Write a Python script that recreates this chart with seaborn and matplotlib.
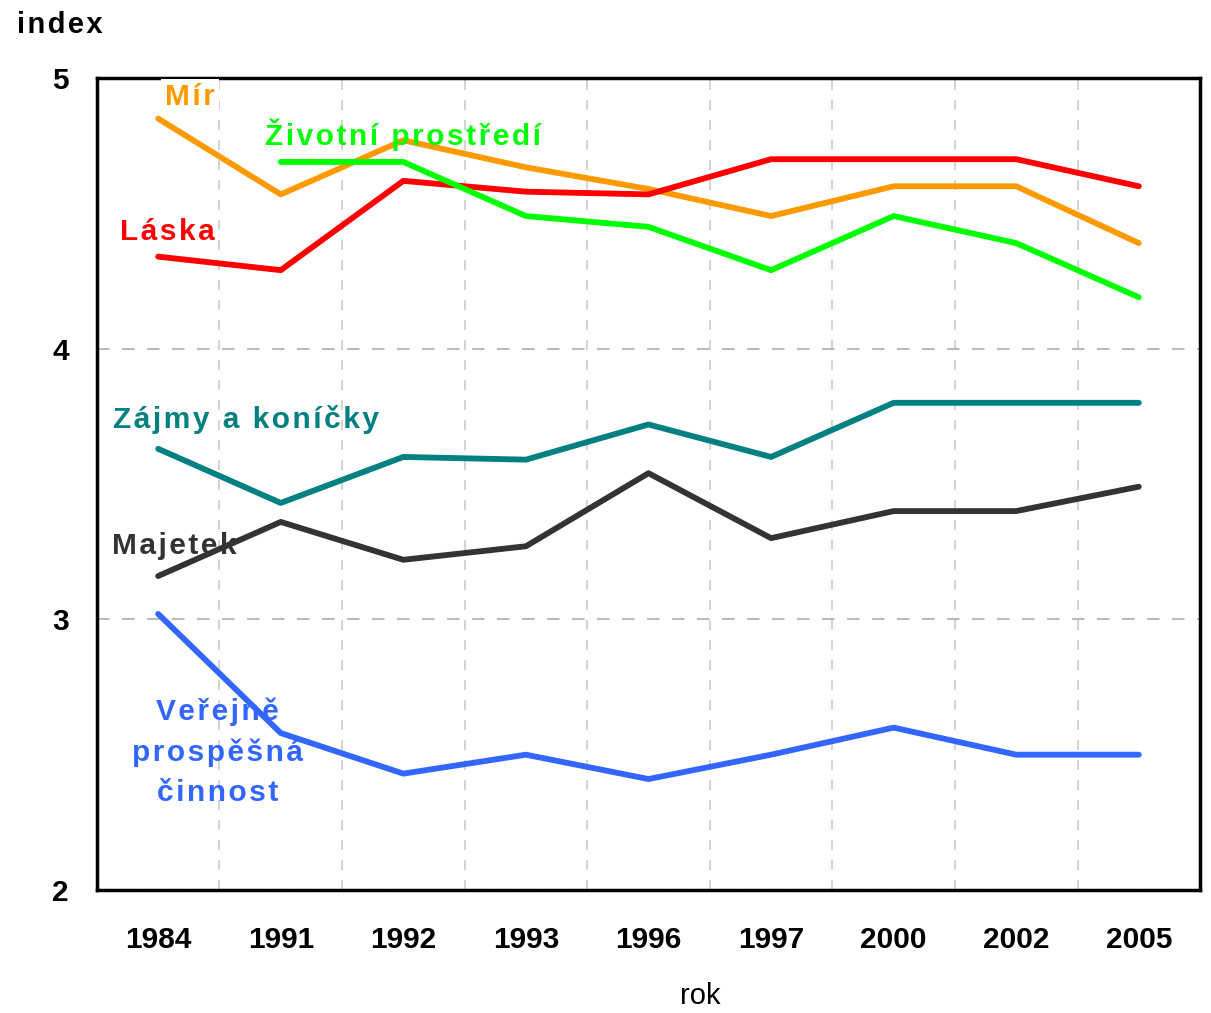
import matplotlib
matplotlib.use("Agg")
import matplotlib.pyplot as plt
from matplotlib.ticker import FixedLocator
import seaborn as sns
import numpy as np
import pandas as pd

roky = ["1984", "1991", "1992", "1993", "1996", "1997", "2000", "2002", "2005"]

mir = [4.85, 4.57, 4.77, 4.67, 4.59, 4.49, 4.60, 4.60, 4.39]
laska = [4.34, 4.29, 4.62, 4.58, 4.57, 4.70, 4.70, 4.70, 4.60]
zivotni = [np.nan, 4.69, 4.69, 4.49, 4.45, 4.29, 4.49, 4.39, 4.19]
zajmy = [3.63, 3.43, 3.60, 3.59, 3.72, 3.60, 3.80, 3.80, 3.80]
majetek = [3.16, 3.36, 3.22, 3.27, 3.54, 3.30, 3.40, 3.40, 3.49]
verejne = [3.02, 2.58, 2.43, 2.50, 2.41, 2.50, 2.60, 2.50, 2.50]

serie = {
    "Mír": mir,
    "Láska": laska,
    "Životní prostředí": zivotni,
    "Zájmy a koníčky": zajmy,
    "Majetek": majetek,
    "Veřejně prospěšná činnost": verejne,
}
barvy = {
    "Mír": "#FF9900",
    "Láska": "#FF0000",
    "Životní prostředí": "#00FF00",
    "Zájmy a koníčky": "#008080",
    "Majetek": "#333333",
    "Veřejně prospěšná činnost": "#3366FF",
}

rows = []
for nazev, hodnoty in serie.items():
    for i, (rok, v) in enumerate(zip(roky, hodnoty)):
        rows.append({"serie": nazev, "pos": i, "rok": rok, "index": v})
df = pd.DataFrame(rows)


def prolozit(text):
    # rozpalovani pisma jako v puvodnim grafu (hair space mezi znaky)
    return "\n".join("\u200a".join(radek) for radek in text.split("\n"))


sns.set_style("white")
plt.rcParams["font.family"] = ["Liberation Sans", "DejaVu Sans"]
plt.rcParams["text.color"] = "black"
plt.rcParams["axes.labelcolor"] = "black"
plt.rcParams["xtick.color"] = "black"
plt.rcParams["ytick.color"] = "black"

fig = plt.figure(figsize=(12.11, 10.13), dpi=100)
ax = fig.add_axes([0.080, 0.1214, 0.911, 0.8016])

sns.lineplot(data=df, x="pos", y="index", hue="serie", palette=barvy,
             estimator=None, sort=False, lw=4.2, legend=False, ax=ax, zorder=4)

ax.set_xlim(-0.5, len(roky) - 0.5)
ax.set_ylim(2, 5)
ax.set_xticks(range(len(roky)))
ax.set_xticklabels(roky, fontsize=21.5, fontweight="bold")
ax.xaxis.set_minor_locator(FixedLocator(np.arange(-0.5, len(roky), 1.0)))
ax.tick_params(axis="x", which="major", length=0, pad=26)
ax.tick_params(axis="x", which="minor", length=8, width=2.5, direction="out", color="black")
ax.set_yticks([2, 3, 4, 5])
ax.set_yticklabels(["2", "3", "4", "5"], fontsize=21.5, fontweight="bold")
ax.tick_params(axis="y", length=8, width=2.5, direction="out", color="black", pad=12)

ax.grid(False)
ax.xaxis.grid(True, which="minor", ls=(0, (6, 6)), color="#CCCCCC", lw=1.2)
ax.yaxis.grid(True, which="major", ls=(0, (6, 6)), color="#BBBBBB", lw=1.5)
for s in ax.spines.values():
    s.set_visible(True)
    s.set_color("black")
    s.set_linewidth(2.5)

ax.set_xlabel("")
ax.set_ylabel("")
fig.text(0.578, 0.017, "rok", fontsize=21, va="center", ha="center")
fig.text(0.014, 0.975, prolozit("index"), fontsize=21, fontweight="bold", va="center", ha="left")

kw = dict(fontsize=21.5, fontweight="bold", zorder=5, clip_on=False)
ax.text(0.055, 4.93, prolozit("Mír"), color=barvy["Mír"], va="center", ha="left",
        bbox=dict(facecolor="white", edgecolor="none", pad=3), **kw)
ax.text(0.87, 4.79, prolozit("Životní prostředí"), color=barvy["Životní prostředí"],
        va="center", ha="left", **kw)
ax.text(-0.31, 4.43, prolozit("Láska"), color=barvy["Láska"], va="center", ha="left", **kw)
ax.text(-0.37, 3.74, prolozit("Zájmy a koníčky"), color=barvy["Zájmy a koníčky"],
        va="center", ha="left", **kw)
ax.text(-0.38, 3.27, prolozit("Majetek"), color=barvy["Majetek"], va="center", ha="left", **kw)
ax.text(0.487, 2.51, prolozit("Veřejně\nprospěšná\nčinnost"), color=barvy["Veřejně prospěšná činnost"],
        va="center", ha="center", multialignment="center", linespacing=1.55, **kw)

fig.savefig("out.png", dpi=100)
